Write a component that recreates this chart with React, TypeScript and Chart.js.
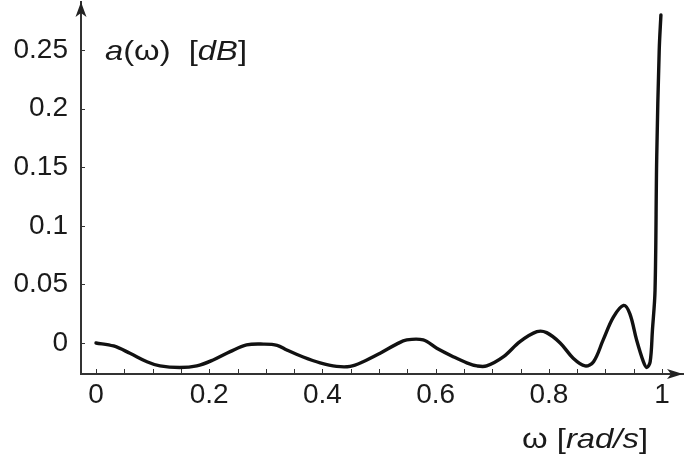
import { useEffect, useRef } from 'react';
import { Chart, registerables } from 'chart.js';

Chart.register(...registerables);

const omega = [
  0, 0.031, 0.06, 0.09, 0.113, 0.148, 0.178, 0.207, 0.237, 0.266, 0.296,
  0.32, 0.337, 0.366, 0.396, 0.425, 0.449, 0.472, 0.502, 0.531, 0.549, 0.578,
  0.602, 0.631, 0.655, 0.673, 0.69, 0.72, 0.749, 0.779, 0.796, 0.82, 0.843,
  0.864, 0.879, 0.896, 0.914, 0.932, 0.943, 0.955, 0.967, 0.973, 0.979, 0.983,
  0.9876, 0.9906, 0.995, 0.998,
];
const attenuation = [
  0, -0.0026, -0.0088, -0.016, -0.0196, -0.021, -0.0196, -0.0145, -0.0074, -0.0017, -0.001,
  -0.002, -0.006, -0.012, -0.017, -0.02, -0.02, -0.016, -0.0088, -0.001, 0.0026, 0.0026,
  -0.0045, -0.0117, -0.017, -0.0196, -0.0196, -0.0117, 0.0011, 0.0096, 0.0088, 0.0, -0.013,
  -0.0196, -0.016, 0.0026, 0.022, 0.032, 0.025, 0.0026, -0.016, -0.021, -0.016, 0.011,
  0.045, 0.159, 0.25, 0.28,
];

const xTickValues = [0, 0.2, 0.4, 0.6, 0.8, 1];
const xTickLabels = ['0', '0.2', '0.4', '0.6', '0.8', '1'];
const xMinorTicks = [0, 0.05, 0.1, 0.15, 0.2, 0.25, 0.3, 0.35, 0.4, 0.45, 0.5, 0.55, 0.6, 0.65, 0.7, 0.75, 0.8, 0.85, 0.9, 0.95, 1];
const yTickValues = [0, 0.05, 0.1, 0.15, 0.2, 0.25];
const yTickLabels = ['0', '0.05', '0.1', '0.15', '0.2', '0.25'];

const FONT = '"Liberation Sans", Arial, sans-serif';

type Seg = { t: string; italic: boolean };
const yTitle: Seg[] = [
  { t: 'a', italic: true },
  { t: '(ω)  [', italic: false },
  { t: 'dB', italic: true },
  { t: ']', italic: false },
];
const xTitle: Seg[] = [
  { t: 'ω [', italic: false },
  { t: 'rad/s', italic: true },
  { t: ']', italic: false },
];

function drawRich(ctx: CanvasRenderingContext2D, segs: Seg[], x: number, baseline: number, targetWidth: number) {
  const size = 28;
  let total = 0;
  for (const s of segs) {
    ctx.font = `${s.italic ? 'italic ' : ''}${size}px ${FONT}`;
    total += ctx.measureText(s.t).width;
  }
  const sx = targetWidth / total;
  ctx.save();
  ctx.translate(x, baseline);
  ctx.scale(sx, 1);
  ctx.fillStyle = '#1a1a1a';
  ctx.textBaseline = 'alphabetic';
  ctx.textAlign = 'left';
  let cx = 0;
  for (const s of segs) {
    ctx.font = `${s.italic ? 'italic ' : ''}${size}px ${FONT}`;
    ctx.fillText(s.t, cx, 0);
    cx += ctx.measureText(s.t).width;
  }
  ctx.restore();
}

const decorPlugin = {
  id: 'decor',
  afterDraw(chart: any) {
    const ctx: CanvasRenderingContext2D = chart.ctx;
    const { left, right, top, bottom } = chart.chartArea;
    const xs = chart.scales.x;
    const ys = chart.scales.y;
    ctx.save();
    ctx.fillStyle = '#222';
    ctx.beginPath();
    ctx.moveTo(left, top);
    ctx.lineTo(left - 5.5, top + 15);
    ctx.lineTo(left, top + 11);
    ctx.lineTo(left + 5.5, top + 15);
    ctx.closePath();
    ctx.fill();
    ctx.beginPath();
    ctx.moveTo(right, bottom);
    ctx.lineTo(right - 16, bottom - 5);
    ctx.lineTo(right - 12, bottom);
    ctx.lineTo(right - 16, bottom + 5);
    ctx.closePath();
    ctx.fill();
    ctx.strokeStyle = '#333';
    ctx.lineWidth = 1;
    ctx.beginPath();
    for (const v of xMinorTicks) {
      const px = Math.round(xs.getPixelForValue(v)) + 0.5;
      ctx.moveTo(px, bottom - 1);
      ctx.lineTo(px, bottom - 5);
    }
    for (const v of yTickValues) {
      const py = Math.round(ys.getPixelForValue(v)) + 0.5;
      ctx.moveTo(left + 1, py);
      ctx.lineTo(left + 4, py);
    }
    ctx.stroke();
    ctx.restore();
    drawRich(ctx, yTitle, 105, 60, 142);
    drawRich(ctx, xTitle, 522, 448, 126);
  },
};

export default function App() {
  const ref = useRef<HTMLCanvasElement | null>(null);
  useEffect(() => {
    if (!ref.current) return;
    const chart = new Chart(ref.current, {
      type: 'line',
      data: {
        datasets: [
          {
            data: omega.map((w, i) => ({ x: w, y: attenuation[i] })),
            borderColor: '#111',
            borderWidth: 3.4,
            pointRadius: 0,
            fill: false,
            tension: 0.35,
            borderJoinStyle: 'round',
            borderCapStyle: 'round',
          },
        ],
      },
      options: {
        animation: false,
        responsive: false,
        devicePixelRatio: 1,
        layout: { padding: { top: 2, right: 14, left: 0, bottom: 0 } },
        plugins: { legend: { display: false }, tooltip: { enabled: false } },
        scales: {
          x: {
            type: 'linear',
            min: -0.0265,
            max: 1.037,
            afterBuildTicks: (s: any) => {
              s.ticks = xTickValues.map((v) => ({ value: v }));
            },
            afterFit: (s: any) => {
              s.height = 83;
              s.paddingLeft = 0;
              s.paddingRight = 0;
            },
            ticks: {
              callback: (_v: any, i: number) => xTickLabels[i],
              font: { family: FONT, size: 28 },
              color: '#1a1a1a',
              padding: 4,
              maxRotation: 0,
              autoSkip: false,
            },
            grid: { display: false, drawTicks: false },
            border: { display: true, color: '#333', width: 2 },
          },
          y: {
            type: 'linear',
            min: -0.0265,
            max: 0.291,
            afterBuildTicks: (s: any) => {
              s.ticks = yTickValues.map((v) => ({ value: v }));
            },
            afterFit: (s: any) => {
              s.width = 81;
              s.paddingTop = 0;
              s.paddingBottom = 0;
            },
            ticks: {
              callback: (_v: any, i: number) => yTickLabels[i],
              font: { family: FONT, size: 28 },
              color: '#1a1a1a',
              padding: 13,
              autoSkip: false,
            },
            grid: { display: false, drawTicks: false },
            border: { display: true, color: '#333', width: 2 },
          },
        },
      },
      plugins: [decorPlugin],
    } as any);
    return () => chart.destroy();
  }, []);
  return (
    <div style={{ position: 'absolute', left: 0, top: 0, width: 697, height: 457, background: '#fff' }}>
      <canvas ref={ref} width={697} height={457} style={{ display: 'block' }} />
    </div>
  );
}
